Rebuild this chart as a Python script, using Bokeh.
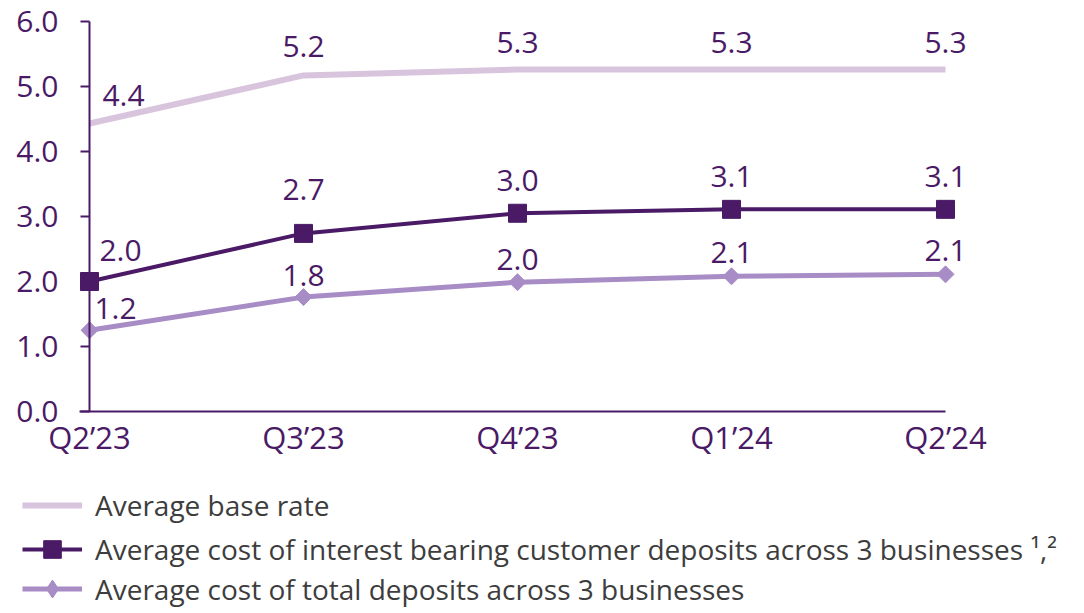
from bokeh.plotting import figure
from bokeh.models import (LinearAxis, FixedTicker, ColumnDataSource, LabelSet,
                          Legend, LegendItem, Range1d, NumeralTickFormatter)
from bokeh.core.properties import value
from bokeh.embed import file_html
from bokeh.resources import INLINE

# ---- data ----
quarters = ["Q2\u201923", "Q3\u201923", "Q4\u201923", "Q1\u201924", "Q2\u201924"]
base_rate = [4.43, 5.17, 5.26, 5.26, 5.26]
interest_cost = [2.00, 2.74, 3.05, 3.11, 3.11]
total_cost = [1.25, 1.76, 1.99, 2.08, 2.11]
y_ticks = [0, 1, 2, 3, 4, 5, 6]
series_names = [
    "Average base rate",
    "Average cost of interest bearing customer deposits across 3 businesses \u00b9,\u00b2",
    "Average cost of total deposits across 3 businesses",
]

# ---- style ----
DARK = "#4A1A66"
BASE = "#D9C4DD"
TOTAL = "#A88CC6"
TEXT = "#3D3D3D"
FONT = "Open Sans"

# label offsets (screen px) per point
base_dx = [34, 0, 0, 0, 0]
base_dy = [28, 29, 27, 27, 27]
int_dx = [31, 0, 0, 0, 0]
int_dy = [31, 44, 33, 33, 33]
tot_dx = [26, 0, 0, 0, 0]
tot_dy = [22, 22, 23, 24, 24]

x = list(range(len(quarters)))

# whole canvas is the frame; axes are placed at x=0 / y=0 inside it
p = figure(width=1076, height=609,
           x_range=Range1d(-0.4159, 4.6121), y_range=Range1d(-3.046, 6.323),
           x_axis_type=None, y_axis_type=None,
           output_backend="svg", toolbar_location=None,
           min_border=0, min_border_left=0, min_border_right=0,
           min_border_top=0, min_border_bottom=0)
p.outline_line_color = None
p.background_fill_color = "white"
p.border_fill_color = "white"

xaxis = LinearAxis(ticker=FixedTicker(ticks=x),
                   major_label_overrides={i: q for i, q in enumerate(quarters)},
                   fixed_location=0, bounds=(-0.047, 4))
xaxis.axis_line_color = DARK
xaxis.axis_line_width = 2
xaxis.major_tick_line_color = None
xaxis.major_tick_out = 0
xaxis.major_tick_in = 0
xaxis.minor_tick_line_color = None
xaxis.major_label_text_font = FONT
xaxis.major_label_text_font_size = "31px"
xaxis.major_label_text_color = DARK
xaxis.major_label_standoff = 4
p.add_layout(xaxis, "below")

yaxis = LinearAxis(ticker=FixedTicker(ticks=y_ticks),
                   formatter=NumeralTickFormatter(format="0.0"),
                   fixed_location=0, bounds=(0, 6))
yaxis.axis_line_color = DARK
yaxis.axis_line_width = 2
yaxis.major_tick_line_color = DARK
yaxis.major_tick_line_width = 2
yaxis.major_tick_out = 9
yaxis.major_tick_in = 0
yaxis.minor_tick_line_color = None
yaxis.major_label_text_font = FONT
yaxis.major_label_text_font_size = "30px"
yaxis.major_label_text_color = DARK
yaxis.major_label_standoff = 22
p.add_layout(yaxis, "left")

src = ColumnDataSource(dict(x=x, base=base_rate, interest=interest_cost, total=total_cost))

r_base = p.line("x", "base", source=src, line_color=BASE, line_width=6)
r_int = p.line("x", "interest", source=src, line_color=DARK, line_width=4)
r_int_m = p.scatter("x", "interest", source=src, marker="square", size=18,
                    fill_color=DARK, line_color=DARK)
r_tot = p.line("x", "total", source=src, line_color=TOTAL, line_width=5)
# diamond marker used for the legend swatch (sits hidden under the rotated square)
r_tot_d = p.scatter("x", "total", source=src, marker="diamond", size=12,
                    fill_color=TOTAL, line_color=TOTAL)
r_tot_m = p.scatter("x", "total", source=src, marker="square", angle=0.785, size=12,
                    fill_color=TOTAL, line_color=TOTAL)


def add_labels(vals, dx, dy):
    s = ColumnDataSource(dict(x=x, y=vals, text=[f"{v:.1f}" for v in vals], dx=dx, dy=dy))
    lbl = LabelSet(x="x", y="y", text="text", x_offset="dx", y_offset="dy", source=s,
                   text_font=value(FONT), text_font_size="30px", text_color=DARK,
                   text_align="center", text_baseline="middle",
                   background_fill_color="white")
    p.add_layout(lbl)


add_labels(base_rate, base_dx, base_dy)
add_labels(interest_cost, int_dx, int_dy)
add_labels(total_cost, tot_dx, tot_dy)

legend_style = dict(orientation="vertical", glyph_width=60, spacing=0,
                    padding=0, margin=0, border_line_color=None, background_fill_alpha=0,
                    label_text_font=FONT, label_text_font_size="28px",
                    label_text_color=TEXT, label_standoff=13)

legend_a = Legend(items=[
    LegendItem(label=series_names[0], renderers=[r_base]),
    LegendItem(label=series_names[1], renderers=[r_int, r_int_m]),
], location=(22, 38), glyph_height=44, label_height=44, **legend_style)
p.add_layout(legend_a)

legend_b = Legend(items=[
    LegendItem(label=series_names[2], renderers=[r_tot, r_tot_d]),
], location=(22, -2), glyph_height=45, label_height=45, **legend_style)
p.add_layout(legend_b)

open("out.html", "w").write(file_html(p, INLINE))
